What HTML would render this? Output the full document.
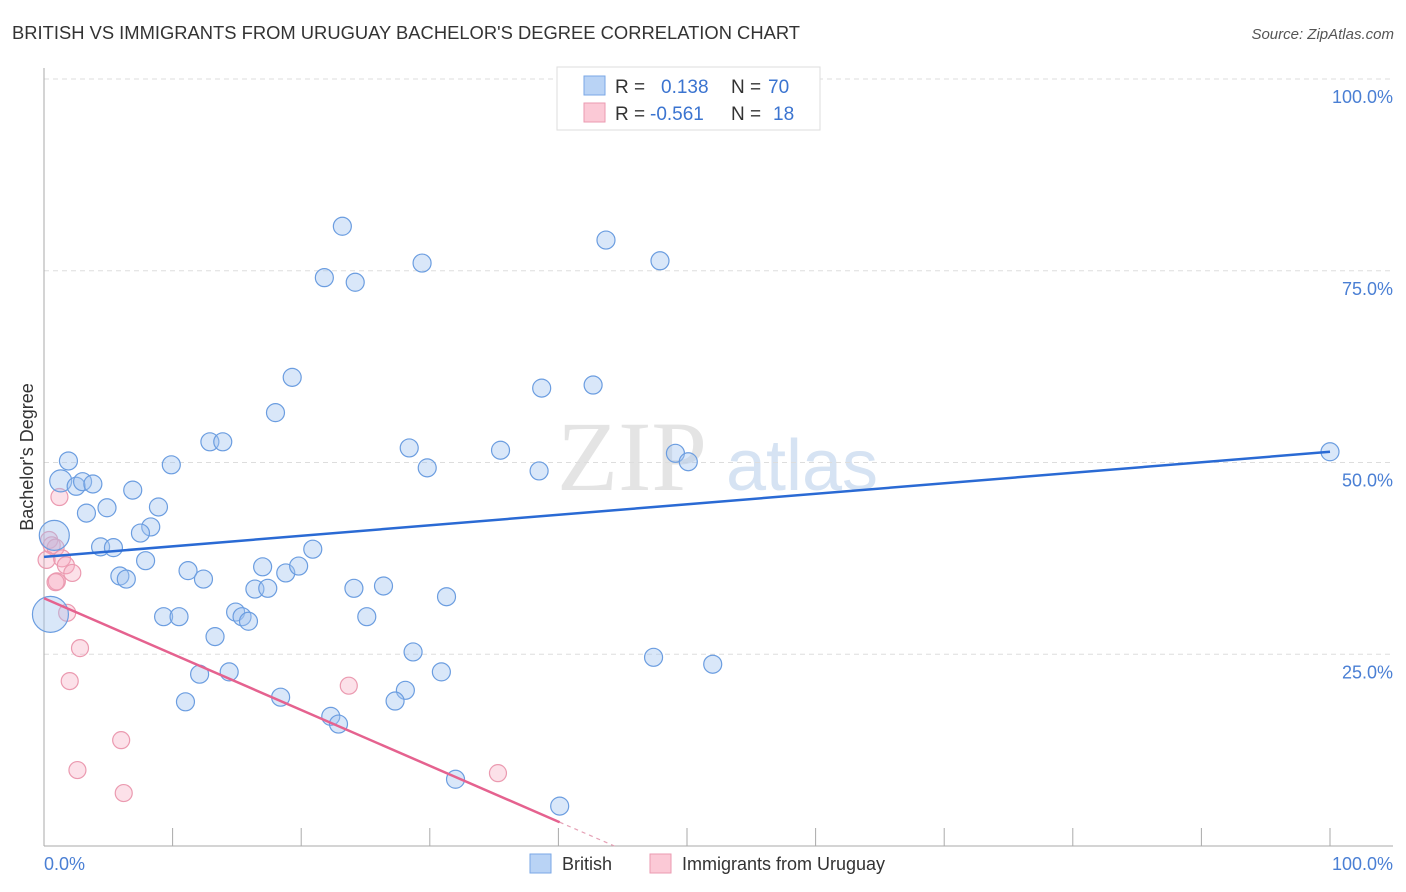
<!DOCTYPE html>
<html><head><meta charset="utf-8"><style>
body{margin:0;background:#fff;font-family:"Liberation Sans",sans-serif}
svg{display:block}
</style></head><body>
<svg id="chart" width="1406" height="892" xmlns="http://www.w3.org/2000/svg">
<text x="12" y="39" font-size="18" fill="#333" textLength="788" lengthAdjust="spacingAndGlyphs">BRITISH VS IMMIGRANTS FROM URUGUAY BACHELOR'S DEGREE CORRELATION CHART</text>
<text x="1394" y="39" font-size="15" fill="#555" font-style="italic" text-anchor="end">Source: ZipAtlas.com</text>
<text x="632" y="490" font-size="100" fill="#e4e4e4" font-family="Liberation Serif,serif" text-anchor="middle">ZIP</text>
<text x="802" y="490" font-size="72" fill="#d6e3f3" text-anchor="middle">atlas</text>
<g id="grid"></g>
<line x1="44" y1="68" x2="44" y2="846" stroke="#aaa"/>
<line x1="44" y1="846" x2="1393" y2="846" stroke="#aaa"/>
<g id="ticks"></g>
<text transform="translate(33,457) rotate(-90)" font-size="18" fill="#333" text-anchor="middle">Bachelor's Degree</text>
<text x="44" y="870" font-size="18" fill="#4a7fd4">0.0%</text>
<text x="1393" y="870" font-size="18" fill="#4a7fd4" text-anchor="end">100.0%</text>
<g id="pts"></g>
<g id="lines"></g>
<g>
<rect x="557" y="67" width="263" height="63" fill="#fff" stroke="#ddd"/>
<rect x="584" y="76" width="21" height="19" fill="#b9d3f5" stroke="#7aa7e6"/>
<rect x="584" y="103" width="21" height="19" fill="#fbc9d6" stroke="#eb9ab0"/>
<text x="615" y="93" font-size="19" fill="#333">R = </text><text x="661" y="93" font-size="19" fill="#3b74d0">0.138</text>
<text x="731" y="93" font-size="19" fill="#333">N = </text><text x="768" y="93" font-size="19" fill="#3b74d0">70</text>
<text x="615" y="120" font-size="19" fill="#333">R = </text><text x="650" y="120" font-size="19" fill="#3b74d0">-0.561</text>
<text x="731" y="120" font-size="19" fill="#333">N = </text><text x="773" y="120" font-size="19" fill="#3b74d0">18</text>
</g>
<g>
<rect x="530" y="854" width="21" height="19" fill="#b9d3f5" stroke="#7aa7e6"/>
<text x="562" y="870" font-size="18" fill="#333">British</text>
<rect x="650" y="854" width="21" height="19" fill="#fbc9d6" stroke="#eb9ab0"/>
<text x="682" y="870" font-size="18" fill="#333">Immigrants from Uruguay</text>
</g>
</svg>
<script>
const yTicks=[100,75,50,25];
const yTickLabels=["100.0%","75.0%","50.0%","25.0%"];
const xTicks=[0,10,20,30,40,50,60,70,80,90,100];
const britishX=[1.9,1.3,2.5,3.0,3.8,3.3,4.9,6.9,8.9,8.3,7.5,9.9,4.4,5.4,5.9,6.4,7.9,0.8,0.5,9.3,10.5,11.2,12.4,13.3,12.9,13.9,11.0,12.1,14.4,14.9,15.4,15.9,17.0,16.4,17.4,18.8,19.8,20.9,18.0,19.3,21.8,23.2,24.2,29.4,18.4,22.3,22.9,24.1,25.1,26.4,28.4,29.8,28.7,28.1,27.3,30.9,31.3,32.0,35.5,38.5,38.7,42.7,43.7,47.9,49.1,50.1,47.4,52.0,40.1,100];
const britishY=[50.2,47.6,46.9,47.5,47.2,43.4,44.1,46.4,44.2,41.6,40.8,49.7,39.0,38.9,35.2,34.8,37.2,40.5,30.2,29.9,29.9,35.9,34.8,27.3,52.7,52.7,18.8,22.4,22.7,30.5,29.9,29.3,36.4,33.5,33.6,35.6,36.5,38.7,56.5,61.1,74.1,80.8,73.5,76.0,19.4,16.9,15.9,33.6,29.9,33.9,51.9,49.3,25.3,20.3,18.9,22.7,32.5,8.7,51.6,48.9,59.7,60.1,79.0,76.3,51.2,50.1,24.6,23.7,5.2,51.4];
const britishR=[9,11,9,9,9,9,9,9,9,9,9,9,9,9,9,9,9,15,18];
const uruguayX=[0.4,0.6,0.9,1.4,1.7,2.2,1.0,0.9,1.2,1.8,2.8,2.0,2.6,6.0,6.2,23.7,35.3,0.2];
const uruguayY=[39.9,39.2,38.9,37.5,36.6,35.6,34.5,34.4,45.5,30.4,25.8,21.5,9.9,13.8,6.9,20.9,9.5,37.3];
const britishTrend=[37.7,51.4];
const uruguayTrend=[32.3,3.1,40.1];
const NS="http://www.w3.org/2000/svg";
const xs=v=>44+v*12.86, ys=v=>846-v*7.67;
function mk(t,a,p){const e=document.createElementNS(NS,t);for(const k in a)e.setAttribute(k,a[k]);p.appendChild(e);return e;}
const grid=document.getElementById('grid');
yTicks.forEach((t,i)=>{
 const l=mk('line',{x1:44,x2:1393,y1:ys(t),y2:ys(t),stroke:'#ddd','stroke-dasharray':'5,4'},grid);
 
 
 const tx=mk('text',{x:1393,y:ys(t)+24,'font-size':18,fill:'#4a7fd4','text-anchor':'end'},grid);
 tx.textContent=yTickLabels[i];
 
 
});
const tk=document.getElementById('ticks');
xTicks.forEach(t=>{
 const l=mk('line',{x1:xs(t),x2:xs(t),y1:828,y2:846,stroke:'#aaa'},tk);
 
 
});
const pts=document.getElementById('pts');
uruguayX.forEach((x,i)=>{
 const c=mk('circle',{cx:xs(x),cy:ys(uruguayY[i]),r:8.5,fill:'rgba(247,170,193,0.35)',stroke:'#eb9ab0','stroke-width':1.2},pts);
 
 
});
britishX.forEach((x,i)=>{
 const c=mk('circle',{cx:xs(x),cy:ys(britishY[i]),r:britishR[i]||9,fill:'rgba(160,195,240,0.4)',stroke:'#6b9de0','stroke-width':1.2},pts);
 
 
});
const ln=document.getElementById('lines');
const b=mk('line',{x1:xs(0),y1:ys(britishTrend[0]),x2:xs(100),y2:ys(britishTrend[1]),stroke:'#2a6ad4','stroke-width':2.5},ln);


const p=mk('line',{x1:xs(0),y1:ys(uruguayTrend[0]),x2:xs(uruguayTrend[2]),y2:ys(uruguayTrend[1]),stroke:'#e5628f','stroke-width':2.5},ln);


const slope=(uruguayTrend[1]-uruguayTrend[0])/uruguayTrend[2];
const xe=-uruguayTrend[0]/slope;
const d=mk('line',{x1:xs(uruguayTrend[2]),y1:ys(uruguayTrend[1]),x2:xs(xe),y2:ys(0),stroke:'#e5a0b5','stroke-width':1.2,'stroke-dasharray':'4,4'},ln);


</script>
</body></html>
